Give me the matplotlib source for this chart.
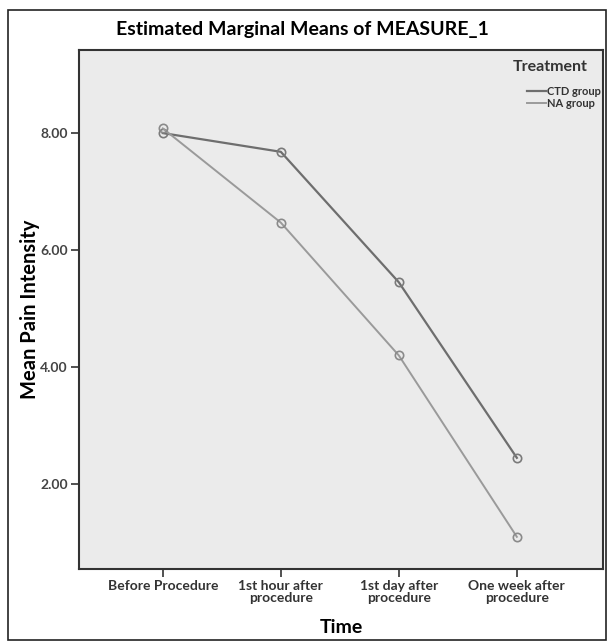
import matplotlib.pyplot as plt
from matplotlib.patches import Rectangle
from matplotlib.ticker import FormatStrFormatter

time_labels = ["Before Procedure", "1st hour after\nprocedure",
               "1st day after\nprocedure", "One week after\nprocedure"]
ctd_group = [8.00, 7.68, 5.45, 2.45]
na_group = [8.08, 6.47, 4.20, 1.10]

plt.rcParams['font.family'] = ['Lato', 'DejaVu Sans']

fig = plt.figure(figsize=(6.09, 6.41), dpi=100)
fig.patches.append(Rectangle((8 / 609, 1 / 641), 598 / 609, 630 / 641,
                             transform=fig.transFigure, fill=False,
                             edgecolor="#222222", linewidth=1.2))

ax = fig.add_axes([79 / 609, 1 - 569 / 641, 524 / 609, 519 / 641])
ax.set_facecolor("#ebebeb")

x = range(len(time_labels))
ax.plot(x, ctd_group, color="#6e6e6e", linewidth=1.6, marker="o",
        markersize=6, markerfacecolor="none", markeredgecolor="#7a7a7a",
        markeredgewidth=1.2, label="CTD group")
ax.plot(x, na_group, color="#9a9a9a", linewidth=1.4, marker="o",
        markersize=6, markerfacecolor="none", markeredgecolor="#8a8a8a",
        markeredgewidth=1.2, label="NA group")

ax.set_xlim(-0.71, 3.73)
ax.set_ylim(0.55, 9.42)
ax.set_xticks(list(x))
ax.set_xticklabels(time_labels, fontsize=10, fontweight="bold",
                   color="#333333", linespacing=0.95)
ax.set_yticks([2, 4, 6, 8])
ax.yaxis.set_major_formatter(FormatStrFormatter("%.2f"))
for lab in ax.get_yticklabels():
    lab.set_fontsize(10)
    lab.set_fontweight("bold")
    lab.set_color("#444444")
ax.tick_params(direction="out", length=6, width=1.2, color="#333333", pad=2)

for side in ax.spines.values():
    side.set_linewidth(1.5)
    side.set_color("#333333")

fig.text(0.497, 1 - 30 / 641, "Estimated Marginal Means of MEASURE_1",
         ha="center", va="center", fontsize=14, fontweight="bold")
ax.set_xlabel("Time", fontsize=14, fontweight="bold", labelpad=11)
ax.set_ylabel("Mean Pain Intensity", fontsize=14.5, fontweight="bold", labelpad=0)

ax.text(0.97, 0.967, "Treatment", transform=ax.transAxes, ha="right",
        va="center", fontsize=11.5, fontweight="bold", color="#333333")
leg = ax.legend(loc="upper right", bbox_to_anchor=(1.0, 0.935), frameon=False,
                fontsize=8, handlelength=1.7, handletextpad=0.1,
                labelspacing=0.1, borderaxespad=0.0, borderpad=0.2)
for h in leg.legend_handles:
    h.set_marker("")
for t in leg.get_texts():
    t.set_fontweight("bold")
    t.set_color("#333333")

fig.savefig("out.png", dpi=100)
